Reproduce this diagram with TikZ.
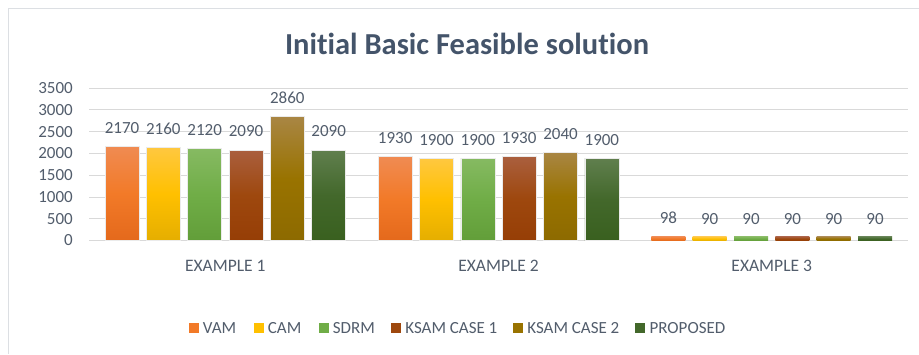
\documentclass[tikz,border=0pt]{standalone}
\usepackage{fontspec}
\setmainfont{Carlito}[Ligatures={NoCommon,NoContextual,NoRequired}]
\usepackage{xcolor}
\definecolor{chartText}{HTML}{44546A}
\definecolor{axisText}{HTML}{525D6C}
\definecolor{gridLine}{HTML}{D9D9D9}
\definecolor{frameLine}{HTML}{DCDFE3}
\definecolor{vam}{HTML}{F27A28}
\definecolor{vamTop}{HTML}{F08B52}
\definecolor{vamBot}{HTML}{E4691C}
\definecolor{cam}{HTML}{FFC000}
\definecolor{camTop}{HTML}{FFC840}
\definecolor{camBot}{HTML}{E5AE00}
\definecolor{sdrm}{HTML}{70AD47}
\definecolor{sdrmTop}{HTML}{86BA62}
\definecolor{sdrmBot}{HTML}{629E39}
\definecolor{ksamOne}{HTML}{9E480E}
\definecolor{ksamOneTop}{HTML}{AA5F3E}
\definecolor{ksamOneBot}{HTML}{963E06}
\definecolor{ksamTwo}{HTML}{997300}
\definecolor{ksamTwoTop}{HTML}{A98644}
\definecolor{ksamTwoBot}{HTML}{8D6A00}
\definecolor{proposed}{HTML}{43682B}
\definecolor{proposedTop}{HTML}{607F4E}
\definecolor{proposedBot}{HTML}{39601F}
\usetikzlibrary{positioning}

\begin{document}
\begin{tikzpicture}[x=1pt, y=-1pt,
    valLabel/.style={text=axisText, font=\fontsize{17}{20}\selectfont, inner sep=0pt},
    axLabel/.style={text=axisText, font=\fontsize{17}{20}\selectfont, inner sep=0pt, anchor=east},
    catLabel/.style={text=axisText, font=\fontsize{17.5}{20}\selectfont, inner sep=0pt},
    keyBox/.style={minimum size=10pt, inner sep=0pt, anchor=north west},
    keyText/.style={text=axisText, font=\fontsize{17}{20}\selectfont, inner sep=0pt, right=4pt of #1},
    bar/.style={top color=#1Top, bottom color=#1Bot, middle color=#1},
    barEdge/.style={draw=white!92!black, line width=0.5pt}]
  \useasboundingbox (0,0) rectangle (919,354);
  \fill[white] (0,0) rectangle (919,354);
  \draw[frameLine, line width=1pt] (8,354) -- (8,8) -- (919,8);

  % title
  \node[text=chartText, font=\fontsize{30.5}{34}\selectfont\bfseries] (title) at (467,44) {Initial Basic Feasible solution};

  % grid and y axis
  \draw[gridLine, line width=0.8pt] (89,240.5) -- (908,240.5);
  \draw[gridLine, line width=0.8pt] (89,218.71) -- (908,218.71);
  \draw[gridLine, line width=0.8pt] (89,196.93) -- (908,196.93);
  \draw[gridLine, line width=0.8pt] (89,175.14) -- (908,175.14);
  \draw[gridLine, line width=0.8pt] (89,153.36) -- (908,153.36);
  \draw[gridLine, line width=0.8pt] (89,131.57) -- (908,131.57);
  \draw[gridLine, line width=0.8pt] (89,109.79) -- (908,109.79);
  \draw[gridLine, line width=0.8pt] (89,88) -- (908,88);
  \node[axLabel] (y0) at (73,240.5) {0};
  \node[axLabel] (y500) at (73,218.71) {500};
  \node[axLabel] (y1000) at (73,196.93) {1000};
  \node[axLabel] (y1500) at (73,175.14) {1500};
  \node[axLabel] (y2000) at (73,153.36) {2000};
  \node[axLabel] (y2500) at (73,131.57) {2500};
  \node[axLabel] (y3000) at (73,109.79) {3000};
  \node[axLabel] (y3500) at (73,88) {3500};

  % example 1
  \path[bar=vam] (105,146.3) rectangle (139,240.5);
  \path[bar=cam] (146.33,147) rectangle (180.33,240.5);
  \path[bar=sdrm] (187.67,148.6) rectangle (221.67,240.5);
  \path[bar=ksamOne] (229,150) rectangle (263,240.5);
  \path[bar=ksamTwo] (270.33,116.3) rectangle (304.33,240.5);
  \path[bar=proposed] (311.67,150) rectangle (345.67,240.5);
  \draw[barEdge] (105,146.3) rectangle (139,240.5);
  \draw[barEdge] (146.33,147) rectangle (180.33,240.5);
  \draw[barEdge] (187.67,148.6) rectangle (221.67,240.5);
  \draw[barEdge] (229,150) rectangle (263,240.5);
  \draw[barEdge] (270.33,116.3) rectangle (304.33,240.5);
  \draw[barEdge] (311.67,150) rectangle (345.67,240.5);
  \node[valLabel] (a1) at (122,128) {2170};
  \node[valLabel] (a2) at (163.33,128.4) {2160};
  \node[valLabel] (a3) at (204.67,130.1) {2120};
  \node[valLabel] (a4) at (246,131.4) {2090};
  \node[valLabel] (a5) at (287.33,97.9) {2860};
  \node[valLabel] (a6) at (328.67,131.4) {2090};
  \node[catLabel] (ex1) at (225.33,266) {EXAMPLE 1};

  % example 2
  \path[bar=vam] (378.2,156.6) rectangle (412.2,240.5);
  \path[bar=cam] (419.53,158) rectangle (453.53,240.5);
  \path[bar=sdrm] (460.87,158) rectangle (494.87,240.5);
  \path[bar=ksamOne] (502.2,156.6) rectangle (536.2,240.5);
  \path[bar=ksamTwo] (543.53,152) rectangle (577.53,240.5);
  \path[bar=proposed] (584.87,158) rectangle (618.87,240.5);
  \draw[barEdge] (378.2,156.6) rectangle (412.2,240.5);
  \draw[barEdge] (419.53,158) rectangle (453.53,240.5);
  \draw[barEdge] (460.87,158) rectangle (494.87,240.5);
  \draw[barEdge] (502.2,156.6) rectangle (536.2,240.5);
  \draw[barEdge] (543.53,152) rectangle (577.53,240.5);
  \draw[barEdge] (584.87,158) rectangle (618.87,240.5);
  \node[valLabel] (b1) at (395.2,138.4) {1930};
  \node[valLabel] (b2) at (436.53,139.7) {1900};
  \node[valLabel] (b3) at (477.87,139.7) {1900};
  \node[valLabel] (b4) at (519.2,138.4) {1930};
  \node[valLabel] (b5) at (560.53,133.6) {2040};
  \node[valLabel] (b6) at (601.87,139.7) {1900};
  \node[catLabel] (ex2) at (498.53,266) {EXAMPLE 2};

  % example 3
  \path[bar=vam] (651.4,236.3) rectangle (685.4,240.5);
  \path[bar=cam] (692.73,236.6) rectangle (726.73,240.5);
  \path[bar=sdrm] (734.07,236.6) rectangle (768.07,240.5);
  \path[bar=ksamOne] (775.4,236.6) rectangle (809.4,240.5);
  \path[bar=ksamTwo] (816.73,236.6) rectangle (850.73,240.5);
  \path[bar=proposed] (858.07,236.6) rectangle (892.07,240.5);
  \node[valLabel] (c1) at (668.4,218.2) {98};
  \node[valLabel] (c2) at (709.73,218.6) {90};
  \node[valLabel] (c3) at (751.07,218.6) {90};
  \node[valLabel] (c4) at (792.4,218.6) {90};
  \node[valLabel] (c5) at (833.73,218.6) {90};
  \node[valLabel] (c6) at (875.07,218.6) {90};
  \node[catLabel] (ex3) at (771.73,266) {EXAMPLE 3};

  % legend
  \node[keyBox, fill=vam] (vamKey) at (188.3,322.7) {};
  \node[keyText=vamKey] (vamText) {VAM};
  \node[keyBox, fill=cam] (camKey) at (253.3,322.7) {};
  \node[keyText=camKey] (camText) {CAM};
  \node[keyBox, fill=sdrm] (sdrmKey) at (318.3,322.7) {};
  \node[keyText=sdrmKey] (sdrmText) {SDRM};
  \node[keyBox, fill=ksamOne] (ksamOneKey) at (390.7,322.7) {};
  \node[keyText=ksamOneKey] (ksamOneText) {KSAM CASE 1};
  \node[keyBox, fill=ksamTwo] (ksamTwoKey) at (512.7,322.7) {};
  \node[keyText=ksamTwoKey] (ksamTwoText) {KSAM CASE 2};
  \node[keyBox, fill=proposed] (proposedKey) at (635,322.7) {};
  \node[keyText=proposedKey] (proposedText) {PROPOSED};
\end{tikzpicture}
\end{document}
